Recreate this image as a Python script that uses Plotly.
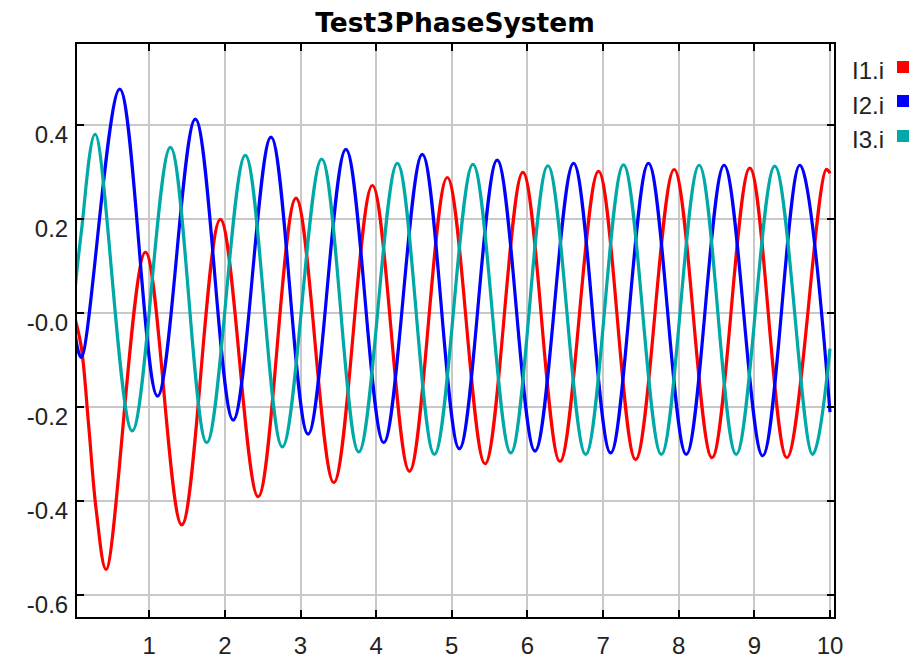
import plotly.graph_objects as go

# ---- data (time in s, current) ----
t_i1 = [0.0, 0.1, 0.2, 0.3, 0.43, 0.95, 1.43, 1.94, 2.44, 2.94, 3.44, 3.95, 4.44, 4.94,
        5.44, 5.94, 6.43, 6.94, 7.43, 7.94, 8.44, 8.94, 9.43, 9.95, 10.0]
i1 = [0.0, -0.07, -0.24, -0.42, -0.545, 0.13, -0.45, 0.20, -0.39, 0.245, -0.36, 0.272, -0.336, 0.289,
      -0.32, 0.30, -0.315, 0.302, -0.311, 0.306, -0.307, 0.309, -0.307, 0.306, 0.298]

t_i2 = [0.0, 0.1, 0.61, 1.11, 1.61, 2.11, 2.61, 3.10, 3.60, 4.10, 4.61, 5.10, 5.60, 6.10,
        6.61, 7.10, 7.60, 8.10, 8.60, 9.11, 9.60, 10.0]
i2 = [-0.02, -0.094, 0.477, -0.176, 0.413, -0.227, 0.375, -0.257, 0.349, -0.275, 0.338, -0.288, 0.326, -0.293,
      0.319, -0.297, 0.319, -0.30, 0.315, -0.303, 0.315, -0.21]

t_i3 = [0.0, 0.1, 0.285, 0.775, 1.28, 1.76, 2.27, 2.76, 3.28, 3.77, 4.28, 4.77, 5.28, 5.78,
        6.27, 6.77, 7.27, 7.77, 8.27, 8.76, 9.27, 9.77, 10.0]
i3 = [0.02, 0.17, 0.381, -0.25, 0.353, -0.275, 0.336, -0.284, 0.328, -0.295, 0.319, -0.30, 0.317, -0.297,
      0.314, -0.30, 0.316, -0.30, 0.315, -0.30, 0.313, -0.30, -0.075]

series_names = ["I1.i", "I2.i", "I3.i"]
series_colors = ["#ff0000", "#0000ff", "#00a8a8"]

x_tickvals = [1, 2, 3, 4, 5, 6, 7, 8, 9, 10]
x_ticktext = ["1", "2", "3", "4", "5", "6", "7", "8", "9", "10"]
y_tickvals = [0.4, 0.2, 0.0, -0.2, -0.4, -0.6]
y_ticktext = ["0.4", "0.2", "-0.0", "-0.2", "-0.4", "-0.6"]

# ---- figure ----
W, H = 919, 660
L, R, T, B = 77, 85, 44, 43
pw, ph = W - L - R, H - T - B

fig = go.Figure()
for tx, vy, name, col in zip([t_i1, t_i2, t_i3], [i1, i2, i3], series_names, series_colors):
    fig.add_trace(go.Scatter(x=tx, y=vy, mode="lines", name=name,
                             line=dict(color=col, width=3.2, shape="spline"),
                             showlegend=False))

tickfont = dict(family="Liberation Sans, Arial, sans-serif", size=24, color="#222222")
axis_common = dict(showline=True, linecolor="black", linewidth=2, mirror="ticks",
                   ticks="inside", ticklen=7, tickwidth=2, tickcolor="black",
                   showgrid=True, gridcolor="#c8c8c8", gridwidth=2, zeroline=False,
                   tickfont=tickfont, automargin=False)

fig.update_xaxes(range=[0.045, 10.053], tickvals=x_tickvals, ticktext=x_ticktext,
                 ticklabelstandoff=6, **axis_common)
fig.update_yaxes(range=[-0.646, 0.573], tickvals=y_tickvals, ticktext=y_ticktext,
                 ticklabelshift=9, ticklabelstandoff=2, **axis_common)

# legend drawn to the right: text then colored square
def px_to_paper_x(px):
    return (px - L) / pw

def px_to_paper_y(py):
    return (H - B - py) / ph

legend_text_y = [70, 105, 140]
legend_sq_top = [61, 95, 130]
for name, col, ty, sq in zip(series_names, series_colors, legend_text_y, legend_sq_top):
    fig.add_annotation(x=px_to_paper_x(850), y=px_to_paper_y(ty), xref="paper", yref="paper",
                       text=name, showarrow=False, xanchor="left", yanchor="middle",
                       font=dict(family="Liberation Sans, Arial, sans-serif", size=24, color="#222222"))
    fig.add_shape(type="rect", xref="paper", yref="paper",
                  x0=px_to_paper_x(897), x1=px_to_paper_x(909),
                  y0=px_to_paper_y(sq + 12), y1=px_to_paper_y(sq),
                  fillcolor=col, line=dict(width=0))

fig.update_layout(
    width=W, height=H,
    margin=dict(l=L, r=R, t=T, b=B, autoexpand=False),
    paper_bgcolor="white", plot_bgcolor="white",
    title=dict(text="<b>Test3PhaseSystem</b>", x=455 / W, xanchor="center",
               y=1 - 23 / H, yanchor="middle", yref="container",
               font=dict(family="DejaVu Sans, sans-serif", size=26.5, color="black")),
)

fig.write_html("out.html")
